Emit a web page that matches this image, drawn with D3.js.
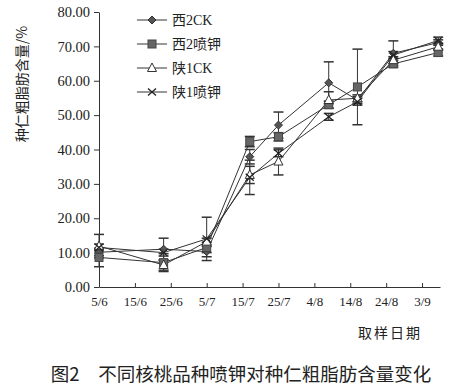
<!DOCTYPE html>
<html><head><meta charset="utf-8">
<script src="https://cdn.jsdelivr.net/npm/d3@7"></script>
<style>
html,body{margin:0;padding:0;background:#fff;}
svg{display:block;}
text{font-family:"Liberation Serif","Noto Sans CJK SC",serif;fill:#222;}
</style></head>
<body>
<svg id="chart" width="452" height="388"></svg>
<script>
// ---- data ----
const tickLabels = ["5/6","15/6","25/6","5/7","15/7","25/7","4/8","14/8","24/8","3/9"];
const tickDays = [0,10,20,30,40,50,60,70,80,90];
const sampleDays = [0,18,30,42,50,64,72,82,94.5];
const seriesNames = ["西2CK","西2喷钾","陕1CK","陕1喷钾"];
const xi2CK   = [10.1,11.0,10.3,37.9,47.1,59.4,54.4,68.0,71.1];
const xi2K    = [8.6,7.1,11.5,42.3,43.7,53.0,58.2,64.9,68.2];
const shaan1CK= [11.9,6.4,13.2,32.6,36.5,54.4,54.9,66.0,69.9];
const shaan1K = [11.5,10.0,14.0,31.9,38.9,49.5,53.9,67.5,71.7];
const xi2CKErr   = [1.0,3.2,1.5,2.1,3.8,6.1,1.0,3.6,0.8];
const xi2KErr    = [2.7,2.6,1.5,1.5,1.2,1.0,11.0,1.0,1.0];
const shaan1CKErr= [3.4,1.5,1.0,2.5,3.9,2.4,1.0,1.0,1.0];
const shaan1KErr = [1.0,1.0,6.3,5.0,1.0,1.0,1.0,1.0,1.0];
const yTicks = [0,10,20,30,40,50,60,70,80];
const yLabel = "种仁粗脂肪含量/%";
const xTitle = "取样日期";
const caption = "图2　不同核桃品种喷钾对种仁粗脂肪含量变化";

const series = [
  {name:seriesNames[0], values:xi2CK, err:xi2CKErr, marker:"diamond"},
  {name:seriesNames[1], values:xi2K, err:xi2KErr, marker:"square"},
  {name:seriesNames[2], values:shaan1CK, err:shaan1CKErr, marker:"triangle"},
  {name:seriesNames[3], values:shaan1K, err:shaan1KErr, marker:"cross"}
];

const svg = d3.select("#chart");
const x = d3.scaleLinear().domain([0,95]).range([99,440]);
const y = d3.scaleLinear().domain([0,80]).range([287,12]);
const ink = "#333";

// y axis
const ya = svg.append("g").attr("transform","translate(99,0)")
  .call(d3.axisLeft(y).tickValues(yTicks).tickFormat(d=>d.toFixed(2)).tickSize(5).tickSizeOuter(0));
ya.select(".domain").attr("stroke",ink);
ya.selectAll(".tick line").attr("stroke",ink);
ya.selectAll(".tick text").attr("x",-9).style("font-size","14.5px").style("font-family","Liberation Serif").attr("fill","#222");

// x axis
const xa = svg.append("g").attr("transform","translate(0,287)")
  .call(d3.axisBottom(x).tickValues(tickDays).tickFormat((d,i)=>tickLabels[i]).tickSize(-4).tickSizeOuter(0));
xa.select(".domain").attr("stroke",ink);
xa.selectAll(".tick line").attr("stroke",ink);
xa.selectAll(".tick text").attr("y",10).attr("dy","0.71em").style("font-size","13px").style("font-family","Liberation Serif").attr("fill","#222");

// y label
svg.append("text").attr("transform","translate(27,84) rotate(-90)")
  .attr("text-anchor","middle").style("font-size","14px")
  .style("font-family","'Noto Sans CJK SC'").attr("fill","#333").text(yLabel);

// x title
svg.append("text").attr("x",390).attr("y",338).attr("text-anchor","middle")
  .style("font-size","14px").style("font-family","'Noto Sans CJK SC'").attr("fill","#333")
  .attr("letter-spacing","2px").text(xTitle);

// caption
svg.append("text").attr("x",241).attr("y",381).attr("text-anchor","middle")
  .style("font-size","18.5px").style("font-family","'Noto Sans CJK SC'").attr("fill","#111").text(caption);

// error bars
series.forEach(s=>{
  const g = svg.append("g");
  s.values.forEach((v,i)=>{
    const cx = x(sampleDays[i]);
    const top = y(v + s.err[i]), bot = y(v - s.err[i]);
    g.append("line").attr("x1",cx).attr("x2",cx).attr("y1",top).attr("y2",bot).attr("stroke",ink).attr("stroke-width",1);
    [top,bot].forEach(yy=>g.append("line").attr("x1",cx-5).attr("x2",cx+5).attr("y1",yy).attr("y2",yy).attr("stroke",ink).attr("stroke-width",1.5));
  });
});

// lines
const line = d3.line().x((d,i)=>x(sampleDays[i])).y(d=>y(d));
series.forEach(s=>{
  svg.append("path").attr("d",line(s.values)).attr("fill","none").attr("stroke",ink).attr("stroke-width",1);
});

function drawMarker(g, type, cx, cy){
  if(type==="diamond"){
    g.append("path").attr("d",`M${cx},${cy-4}L${cx+4},${cy}L${cx},${cy+4}L${cx-4},${cy}Z`).attr("fill","#555").attr("stroke","#333");
  } else if(type==="square"){
    g.append("rect").attr("x",cx-4).attr("y",cy-4).attr("width",8).attr("height",8).attr("fill","#666").attr("stroke","#444");
  } else if(type==="triangle"){
    g.append("path").attr("d",`M${cx},${cy-5}L${cx+4.5},${cy+3.5}L${cx-4.5},${cy+3.5}Z`).attr("fill","#fff").attr("stroke","#333");
  } else {
    g.append("path").attr("d",`M${cx-4},${cy-3.5}L${cx+4},${cy+3.5}M${cx-4},${cy+3.5}L${cx+4},${cy-3.5}`).attr("stroke","#222").attr("stroke-width",1.3);
  }
}

series.forEach(s=>{
  const g = svg.append("g");
  s.values.forEach((v,i)=>drawMarker(g, s.marker, x(sampleDays[i]), y(v)));
});

// legend
const legendY = [20,44,68,92];
series.forEach((s,i)=>{
  const g = svg.append("g");
  const ly = legendY[i];
  g.append("line").attr("x1",137).attr("x2",167).attr("y1",ly).attr("y2",ly).attr("stroke",ink);
  drawMarker(g, s.marker, 152, ly);
  g.append("text").attr("x",172).attr("y",ly).attr("dy","0.35em")
    .style("font-size","14px").style("font-family","'Liberation Serif','Noto Sans CJK SC'").attr("fill","#222").text(s.name);
});
</script>
</body></html>
